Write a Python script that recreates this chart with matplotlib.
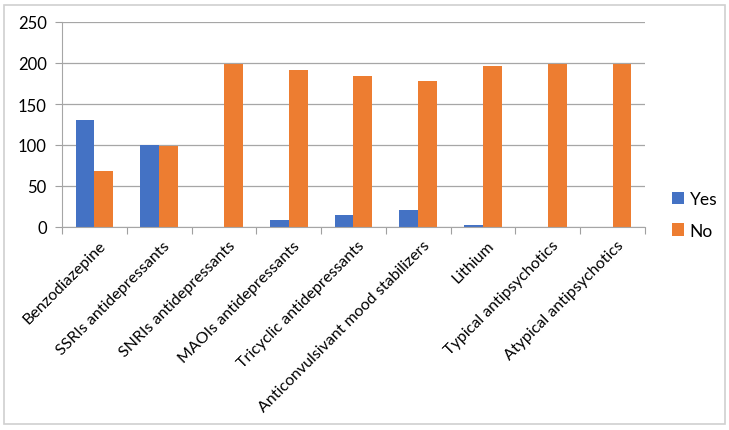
import numpy as np
import matplotlib.pyplot as plt
from matplotlib.patches import Rectangle

# medication categories and counts
categories = ["Benzodiazepine", "SSRIs antidepressants", "SNRIs antidepressants",
              "MAOIs antidepressants", "Tricyclic antidepressants",
              "Anticonvulsivant mood stabilizers", "Lithium",
              "Typical antipsychotics", "Atypical antipsychotics"]
yes_vals = [131, 100, 0, 8, 15, 21, 3, 0, 0]
no_vals = [68, 99, 199, 191, 184, 178, 196, 199, 199]

plt.rcParams['font.family'] = ['Lato', 'DejaVu Sans']

fig = plt.figure(figsize=(7.29, 4.31), dpi=100)
ax = fig.add_axes([62/729, 1-228/431, (645-62)/729, (228-23)/431])

x = np.arange(len(categories))
w = 0.29
ax.bar(x - w/2, yes_vals, w, color="#4472C4", label="Yes")
ax.bar(x + w/2, no_vals, w, color="#ED7D31", label="No")

ax.set_xlim(-0.5, len(categories) - 0.5)
ax.set_ylim(0, 250)
ax.set_yticks(range(0, 251, 50))
ax.tick_params(axis='y', labelsize=12, length=5, color="#A0A0A0", pad=6)
ax.yaxis.grid(True, color="#A6A6A6", linewidth=0.9)
ax.set_axisbelow(True)

# ticks at category boundaries, labels at centres
ax.set_xticks(np.arange(-0.5, len(categories)), minor=False)
ax.set_xticklabels([])
ax.set_xticks(x + 0.06, minor=True)
ax.set_xticklabels(categories, minor=True, rotation=45, ha='right',
                   rotation_mode='anchor', fontsize=11.5)
ax.tick_params(axis='x', which='major', length=5, color="#A0A0A0")
ax.tick_params(axis='x', which='minor', length=0, pad=8)

for s in ['top', 'right']:
    ax.spines[s].set_visible(False)
ax.spines['left'].set_color("#A6A6A6")
ax.spines['bottom'].set_color("#A6A6A6")

ax.legend(loc='center left', bbox_to_anchor=(1.02, 0.06), frameon=False,
          fontsize=12.5, handlelength=0.7, handleheight=0.7, handletextpad=0.3,
          labelspacing=0.9)

fig.patches.append(Rectangle((4/729, 6/431), 721/729, 419/431, transform=fig.transFigure,
                             fill=False, edgecolor="#D0D0D0", linewidth=1.2))

fig.savefig("out.png", dpi=100)
